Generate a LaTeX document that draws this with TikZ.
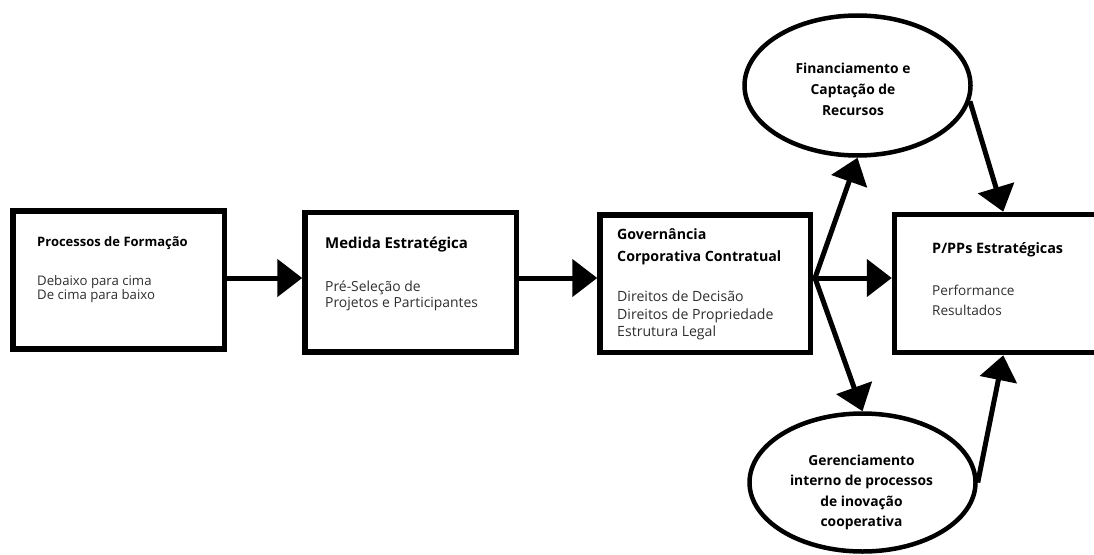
\documentclass[tikz,border=0pt]{standalone}
\usepackage{fontspec}
\setmainfont{Open Sans}
\usetikzlibrary{arrows.meta,shapes.geometric,calc}
\definecolor{bodygray}{gray}{0.18}
\newcommand\stackL[2]{\vtop{\baselineskip=#1pt\lineskiplimit=-100pt\halign{##\hfil\cr#2\crcr}}}
\newcommand\stackC[2]{\vtop{\baselineskip=#1pt\lineskiplimit=-100pt\halign{\hfil##\hfil\cr#2\crcr}}}
\begin{document}
\begin{tikzpicture}[x=1pt,y=-1pt,
 box/.style={draw,line width=5.5pt,rectangle,inner sep=0pt},
 oval/.style={draw,ellipse,line width=4.5pt,inner sep=0pt},
 ttl/.style={anchor=base west,inner sep=0pt},
 bdy/.style={anchor=base west,inner sep=0pt,text=bodygray},
 otxt/.style={anchor=base,inner sep=0pt},
 arr/.style={line width=5pt,-{Triangle[length=25pt,width=37pt]}},
 ln/.style={line width=5pt}]
\useasboundingbox (0,0) rectangle (1094,554);
% boxes
\node[box,minimum width=211.5pt,minimum height=138pt] (b1) at (118.75,280) {};
\node[box,minimum width=211.5pt,minimum height=139.5pt] (b2) at (410.75,282.25) {};
\node[box,minimum width=210.5pt,minimum height=137.5pt] (b3) at (705.25,283.75) {};
\node[box,minimum width=217.5pt,minimum height=138pt] (b4) at (1003.25,283.5) {};
% ellipses
\node[oval,minimum width=226pt,minimum height=140pt] (e1) at (857.5,85.5) {};
\node[oval,minimum width=226pt,minimum height=138pt] (e2) at (862.5,482.5) {};
% texts
\node[ttl] (t1) at (37,246.7) {\fontsize{13}{15}\selectfont\bfseries Processos de Formação};
\node[bdy] (d1) at (37,285) {\fontsize{13.2}{15}\selectfont\stackL{14.3}{Debaixo para cima\cr De cima para baixo}};
\node[ttl] (t2) at (325,248.3) {\fontsize{15}{17}\selectfont\bfseries Medida Estratégica};
\node[bdy] (d2) at (325,291.5) {\fontsize{13.9}{16}\selectfont\stackL{15.6}{Pré-Seleção de\cr Projetos e Participantes}};
\node[ttl] (t3) at (617,239.3) {\fontsize{14.2}{16}\selectfont\bfseries\stackL{21.7}{Governância\cr Corporativa Contratual}};
\node[bdy] (d3) at (617,301.7) {\fontsize{14.1}{16}\selectfont\stackL{17.5}{Direitos de Decisão\cr Direitos de Propriedade\cr Estrutura Legal}};
\node[ttl] (t4) at (932,253.3) {\fontsize{14.4}{16}\selectfont\bfseries P/PPs Estratégicas};
\node[bdy] (d4) at (932,295) {\fontsize{13.6}{16}\selectfont\stackL{20}{Performance\cr Resultados}};
\node[otxt] (o1) at (853,73.5) {\fontsize{13.8}{16}\selectfont\bfseries\stackC{21}{Financiamento e\cr Captação de\cr Recursos}};
\node[otxt] (o2) at (861.5,465.5) {\fontsize{13.8}{16}\selectfont\bfseries\stackC{20.4}{Gerenciamento\cr interno de processos\cr de inovação\cr cooperativa}};
% connectors
\coordinate (lvl) at (0,278);
\coordinate (br) at (815,278);
\draw[arr] (b1.east |- lvl) -- (b2.west |- lvl);
\draw[arr] (b2.east |- lvl) -- (b3.west |- lvl);
\draw[ln] (b3.east |- lvl) -- (br);
\draw[arr] (br) -- (b4.west |- lvl);
\draw[arr] (br) -- (e1.south);
\draw[arr] (br) -- (e2.north);
\draw[arr] (e1.-8) -- (b4.north);
\draw[arr] (e2.east) -- (b4.south);
\end{tikzpicture}
\end{document}
